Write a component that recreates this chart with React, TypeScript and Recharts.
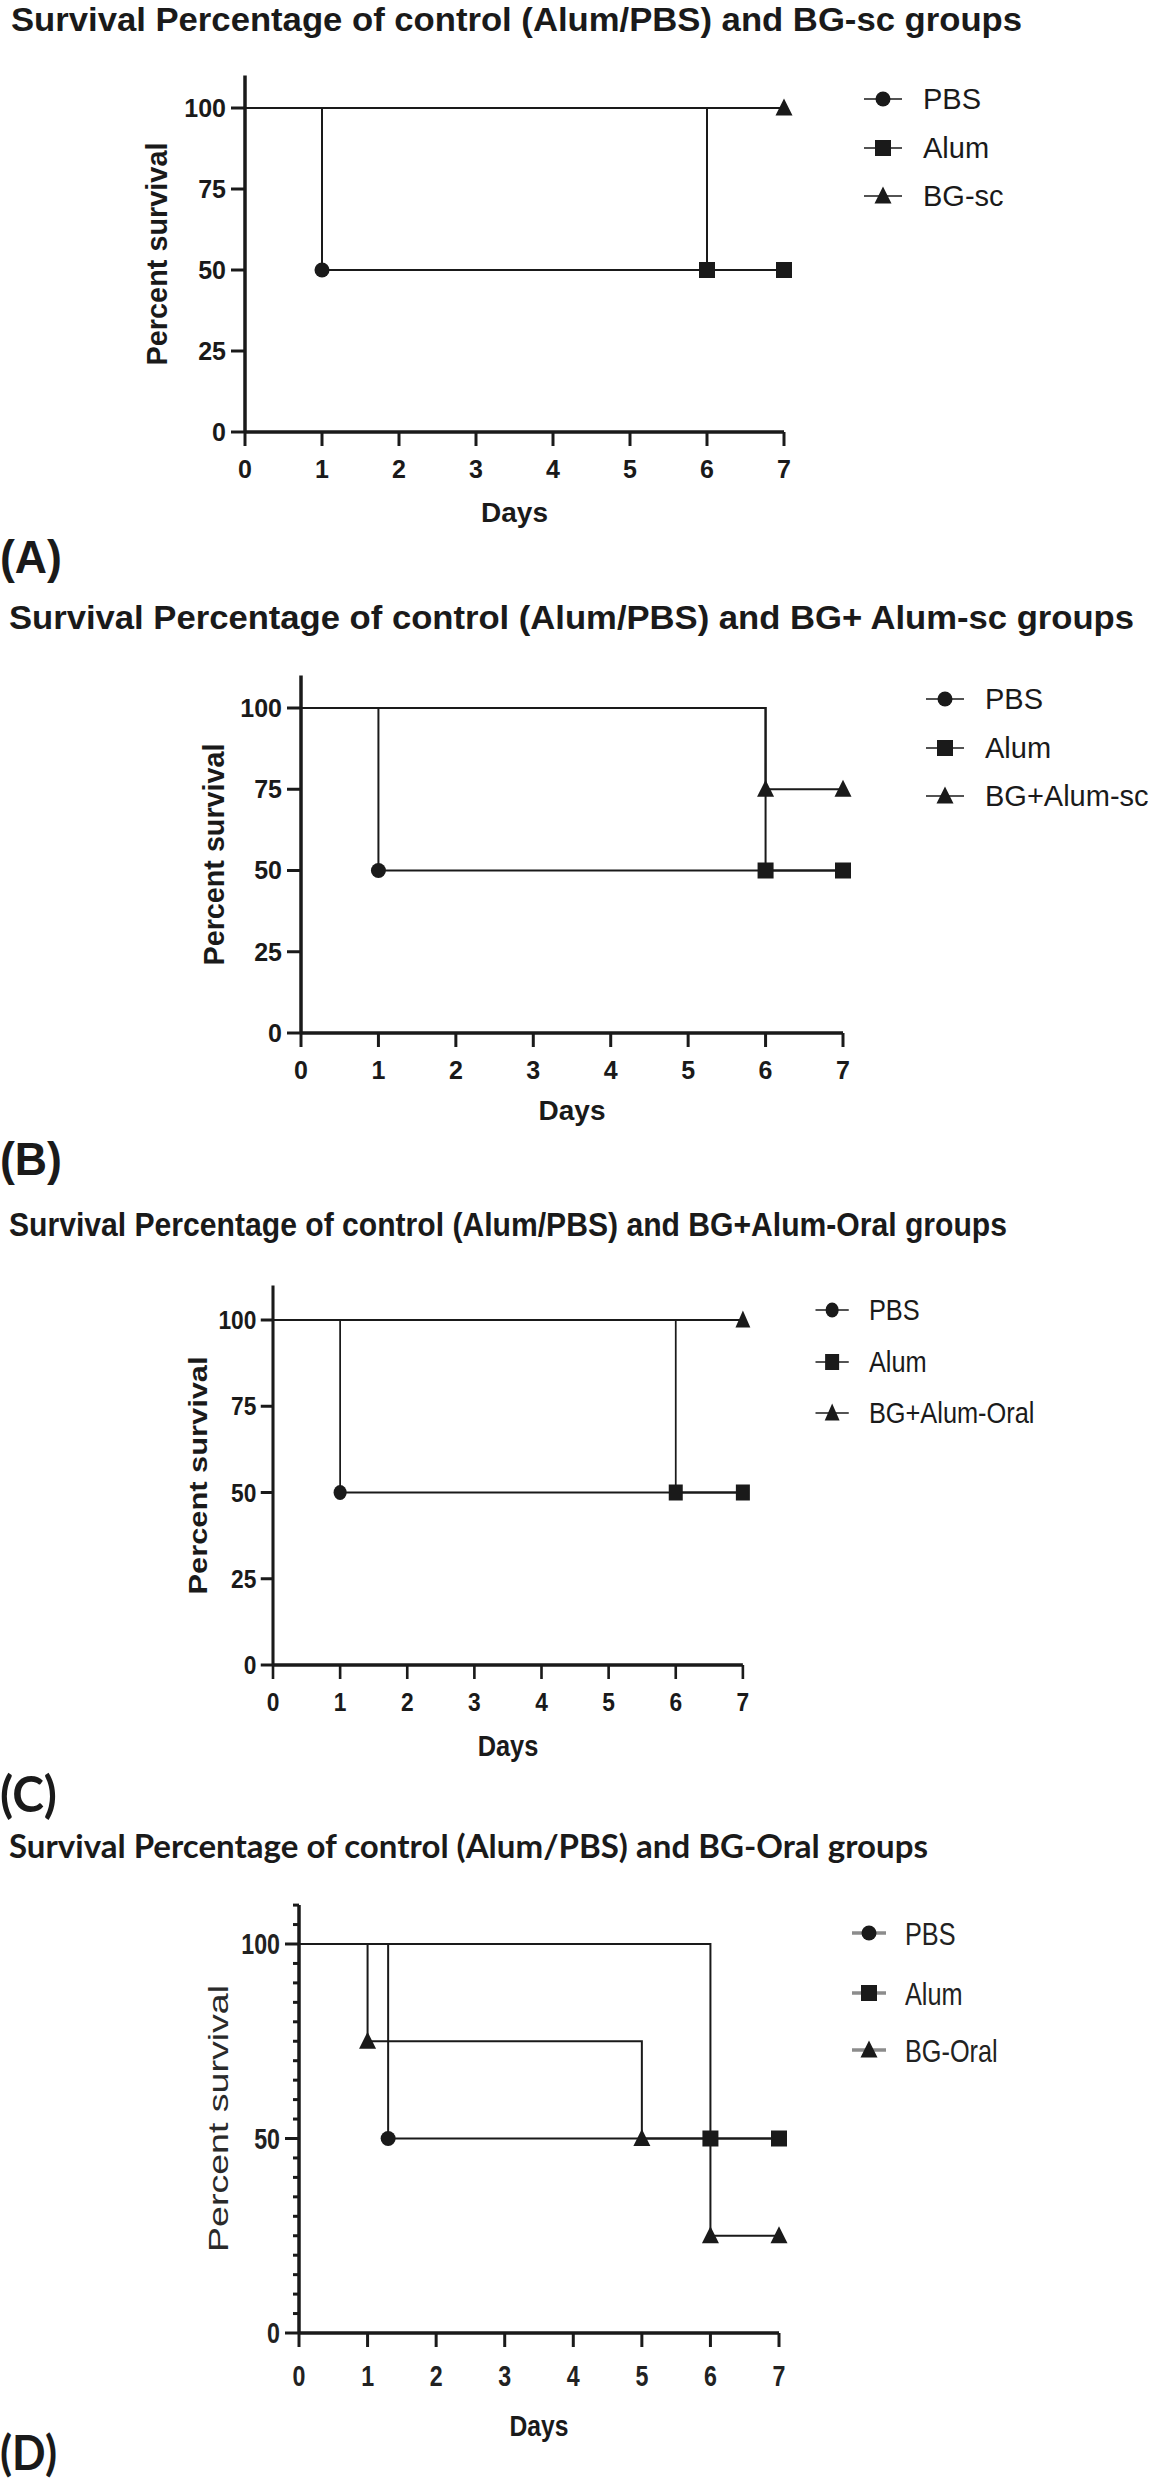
import React from 'react';
import { LineChart, Line, XAxis, YAxis, Legend } from 'recharts';

const FONT = '"Liberation Sans", Arial, Helvetica, sans-serif';
const FONT_CAL = 'Lato, "Open Sans", sans-serif';
const INK = '#1a1a1a';

// axis ticks
const DAY_TICKS = [0, 1, 2, 3, 4, 5, 6, 7];
const PCT_TICKS = [0, 25, 50, 75, 100];
const PCT_TICKS_D = [0, 5, 10, 15, 20, 25, 30, 35, 40, 45, 50, 55, 60, 65, 70, 75, 80, 85, 90, 95, 100, 105, 110];
const PCT_LABELS_D = [0, 50, 100];

type Pt = { day: number; pct: number; mark?: boolean };

// (A) control vs BG-sc
const A_PBS: Pt[] = [{ day: 0, pct: 100 }, { day: 1, pct: 50, mark: true }, { day: 7, pct: 50 }];
const A_ALUM: Pt[] = [{ day: 0, pct: 100 }, { day: 6, pct: 50, mark: true }, { day: 7, pct: 50, mark: true }];
const A_BG: Pt[] = [{ day: 0, pct: 100 }, { day: 7, pct: 100, mark: true }];

// (B) control vs BG+Alum-sc
const B_PBS: Pt[] = [{ day: 0, pct: 100 }, { day: 1, pct: 50, mark: true }, { day: 7, pct: 50 }];
const B_ALUM: Pt[] = [{ day: 0, pct: 100 }, { day: 6, pct: 50, mark: true }, { day: 7, pct: 50, mark: true }];
const B_BG: Pt[] = [{ day: 0, pct: 100 }, { day: 6, pct: 75, mark: true }, { day: 7, pct: 75, mark: true }];

// (C) control vs BG+Alum-Oral
const C_PBS: Pt[] = [{ day: 0, pct: 100 }, { day: 1, pct: 50, mark: true }, { day: 7, pct: 50 }];
const C_ALUM: Pt[] = [{ day: 0, pct: 100 }, { day: 6, pct: 50, mark: true }, { day: 7, pct: 50, mark: true }];
const C_BG: Pt[] = [{ day: 0, pct: 100 }, { day: 7, pct: 100, mark: true }];

// (D) control vs BG-Oral
const D_PBS: Pt[] = [{ day: 0, pct: 100 }, { day: 1.3, pct: 50, mark: true }, { day: 7, pct: 50 }];
const D_ALUM: Pt[] = [{ day: 0, pct: 100 }, { day: 6, pct: 50, mark: true }, { day: 7, pct: 50, mark: true }];
const D_BG: Pt[] = [
  { day: 0, pct: 100 },
  { day: 1, pct: 75, mark: true },
  { day: 5, pct: 50, mark: true },
  { day: 6, pct: 25, mark: true },
  { day: 7, pct: 25, mark: true },
];

const A_NAMES = ['PBS', 'Alum', 'BG-sc'];
const B_NAMES = ['PBS', 'Alum', 'BG+Alum-sc'];
const C_NAMES = ['PBS', 'Alum', 'BG+Alum-Oral'];
const D_NAMES = ['PBS', 'Alum', 'BG-Oral'];

const TITLES = [
  'Survival Percentage of control (Alum/PBS) and BG-sc groups',
  'Survival Percentage of control (Alum/PBS) and BG+ Alum-sc groups',
  'Survival Percentage of control (Alum/PBS) and BG+Alum-Oral groups',
  'Survival Percentage of control (Alum/PBS) and BG-Oral groups',
];
const LETTERS = ['(A)', '(B)', '(C)', '(D)'];

type Shape = 'circle' | 'square' | 'triangle';
const SHAPES: Shape[] = ['circle', 'square', 'triangle'];

const XAXIS_H = 70;
const YAXIS_W = 110;

const Marker = ({ shape, cx, cy }: { shape: Shape; cx: number; cy: number }) => {
  if (shape === 'circle') return <circle cx={cx} cy={cy} r={7.5} fill={INK} />;
  if (shape === 'square') return <rect x={cx - 8} y={cy - 8} width={16} height={16} fill={INK} />;
  return <path d={`M${cx},${cy - 9.5} L${cx + 8.5},${cy + 7.5} L${cx - 8.5},${cy + 7.5} Z`} fill={INK} />;
};

const makeDot = (shape: Shape) => (props: any) => {
  const { cx, cy, payload, index } = props;
  if (!payload || !payload.mark || cx == null || cy == null) return <g key={`n-${index}`} />;
  return (
    <g key={`m-${index}`}>
      <Marker shape={shape} cx={cx} cy={cy} />
    </g>
  );
};

// fixed-position axis title; ignores the viewBox recharts injects
const AxisTitle = (p: any) => {
  const { px, py, text, fs, weight, rotate, len, sx, color } = p;
  const tr = rotate ? `translate(${px},${py}) rotate(-90)` : `translate(${px},${py}) scale(${sx || 1},1)`;
  return (
    <text
      transform={tr}
      textAnchor="middle"
      fontFamily={FONT}
      fontSize={fs}
      fontWeight={weight}
      fill={color || INK}
      textLength={len}
      lengthAdjust={len ? 'spacingAndGlyphs' : undefined}
    >
      {text}
    </text>
  );
};

interface PanelCfg {
  top: number;
  width: number;
  scaleX: number;
  x0: number;
  x7: number;
  y0: number;
  y100: number;
  series: Pt[][];
  names: string[];
  tickFs: number;
  tickSx: number;
  tickColor: string;
  xTickMargin: number;
  yTicks: number[];
  yLabels: number[];
  minor: boolean;
  yTitle: { dx: number; dy: number; fs: number; weight: number; len: number; color: string };
  days: { dy: number; fs: number; sx: number };
  legend: {
    cx: number;
    half: number;
    textX: number;
    rows: number[];
    fs: number;
    sx: number;
    lineColor: string;
    lineW: number;
    color: string;
  };
}

const Panel = ({ cfg }: { cfg: PanelCfg }) => {
  const k = (cfg.y0 - cfg.y100) / 100;
  const yTop = cfg.y0 - 110 * k;
  const bottom = cfg.y0 + 118;
  const height = bottom - cfg.top;
  const margin = {
    top: yTop - cfg.top,
    left: cfg.x0 - YAXIS_W,
    right: cfg.width - cfg.x7,
    bottom: bottom - cfg.y0 - XAXIS_H,
  };
  const lg = cfg.legend;
  const lgLeft = lg.cx - 40;
  const lgTop = lg.rows[0] - 30;

  const XTick = (p: any) => (
    <text
      transform={`translate(${p.x},${p.y}) scale(${cfg.tickSx},1)`}
      textAnchor="middle"
      dy="0.71em"
      fontFamily={FONT}
      fontSize={cfg.tickFs}
      fontWeight="bold"
      fill={cfg.tickColor}
    >
      {p.payload.value}
    </text>
  );

  const YTick = (p: any) => {
    const v = p.payload.value;
    const major = cfg.yLabels.includes(v);
    return (
      <g>
        {cfg.minor && (
          <line x1={cfg.x0 - (major ? 14 : 6)} x2={cfg.x0} y1={p.y} y2={p.y} stroke={INK} strokeWidth={3} />
        )}
        {major && (
          <text
            transform={`translate(${p.x},${p.y}) scale(${cfg.tickSx},1)`}
            textAnchor="end"
            dy="0.355em"
            fontFamily={FONT}
            fontSize={cfg.tickFs}
            fontWeight="bold"
            fill={cfg.tickColor}
          >
            {v}
          </text>
        )}
      </g>
    );
  };

  const renderLegend = () => (
    <svg width={360} height={200} style={{ overflow: 'visible', display: 'block' }}>
      {cfg.names.map((name, i) => {
        const cy = lg.rows[i] - lgTop;
        const cx = lg.cx - lgLeft;
        return (
          <g key={name}>
            <line x1={cx - lg.half} x2={cx + lg.half} y1={cy} y2={cy} stroke={lg.lineColor} strokeWidth={lg.lineW} />
            <Marker shape={SHAPES[i]} cx={cx} cy={cy} />
            <text
              transform={`translate(${lg.textX - lgLeft},${cy}) scale(${lg.sx},1)`}
              dy="0.36em"
              fontFamily={FONT}
              fontSize={lg.fs}
              fill={lg.color}
            >
              {name}
            </text>
          </g>
        );
      })}
    </svg>
  );

  return (
    <div
      style={{
        position: 'absolute',
        left: 0,
        top: cfg.top,
        width: cfg.width,
        height,
        transform: `scaleX(${cfg.scaleX})`,
        transformOrigin: '0 0',
      }}
    >
      <LineChart width={cfg.width} height={height} margin={margin}>
        <XAxis
          type="number"
          dataKey="day"
          domain={[0, 7]}
          ticks={DAY_TICKS}
          interval={0}
          height={XAXIS_H}
          tickSize={14}
          tickMargin={cfg.xTickMargin}
          axisLine={{ stroke: INK, strokeWidth: 3.5 }}
          tickLine={{ stroke: INK, strokeWidth: 3 }}
          tick={XTick}
          label={
            <AxisTitle
              px={(cfg.x0 + cfg.x7) / 2}
              py={cfg.y0 + cfg.days.dy - cfg.top}
              text="Days"
              fs={cfg.days.fs}
              weight="bold"
              sx={cfg.days.sx}
            />
          }
        />
        <YAxis
          type="number"
          domain={[0, 110]}
          allowDataOverflow
          ticks={cfg.yTicks}
          interval={0}
          width={YAXIS_W}
          tickSize={14}
          tickMargin={5}
          axisLine={{ stroke: INK, strokeWidth: 3.5 }}
          tickLine={cfg.minor ? false : { stroke: INK, strokeWidth: 3 }}
          tick={YTick}
          label={
            <AxisTitle
              px={cfg.x0 - cfg.yTitle.dx}
              py={(cfg.y0 + cfg.y100) / 2 - cfg.yTitle.dy - cfg.top}
              text="Percent survival"
              fs={cfg.yTitle.fs}
              weight={cfg.yTitle.weight}
              rotate
              len={cfg.yTitle.len}
              color={cfg.yTitle.color}
            />
          }
        />
        <Legend
          layout="vertical"
          align="center"
          verticalAlign="middle"
          content={renderLegend}
          wrapperStyle={{ position: 'absolute', left: lgLeft, top: lgTop - cfg.top, width: 360, height: 200 }}
        />
        {cfg.series.map((data, i) => (
          <Line
            key={cfg.names[i]}
            name={cfg.names[i]}
            data={data}
            dataKey="pct"
            type="stepAfter"
            stroke={INK}
            strokeWidth={2}
            dot={makeDot(SHAPES[i])}
            activeDot={false}
            isAnimationActive={false}
          />
        ))}
      </LineChart>
    </div>
  );
};

const baseLegend = { half: 19, fs: 29, sx: 1, lineColor: INK, lineW: 1.6, color: INK };

const PANELS: PanelCfg[] = [
  {
    top: 40, width: 1152, scaleX: 1,
    x0: 245, x7: 784, y0: 432, y100: 108,
    series: [A_PBS, A_ALUM, A_BG], names: A_NAMES,
    tickFs: 25, tickSx: 1, tickColor: INK, xTickMargin: 14,
    yTicks: PCT_TICKS, yLabels: PCT_TICKS, minor: false,
    yTitle: { dx: 78, dy: 16, fs: 29, weight: 700, len: 223, color: INK },
    days: { dy: 90, fs: 28, sx: 1 },
    legend: { ...baseLegend, cx: 883, textX: 923, rows: [99, 148, 196] },
  },
  {
    top: 640, width: 1152, scaleX: 1,
    x0: 301, x7: 843, y0: 1033, y100: 708,
    series: [B_PBS, B_ALUM, B_BG], names: B_NAMES,
    tickFs: 25, tickSx: 1, tickColor: INK, xTickMargin: 14,
    yTicks: PCT_TICKS, yLabels: PCT_TICKS, minor: false,
    yTitle: { dx: 77, dy: 16, fs: 29, weight: 700, len: 222, color: INK },
    days: { dy: 87, fs: 28, sx: 1 },
    legend: { ...baseLegend, cx: 945, textX: 985, rows: [699, 748, 796] },
  },
  {
    top: 1245, width: 1317, scaleX: 0.875,
    x0: 312, x7: 849, y0: 1665, y100: 1320,
    series: [C_PBS, C_ALUM, C_BG], names: C_NAMES,
    tickFs: 26, tickSx: 1, tickColor: INK, xTickMargin: 14,
    yTicks: PCT_TICKS, yLabels: PCT_TICKS, minor: false,
    yTitle: { dx: 76, dy: 17, fs: 30, weight: 700, len: 238, color: INK },
    days: { dy: 91, fs: 29, sx: 1 },
    legend: { ...baseLegend, cx: 951, textX: 993, rows: [1310, 1362, 1413] },
  },
  {
    top: 1870, width: 1152, scaleX: 1,
    x0: 299, x7: 779, y0: 2333, y100: 1944,
    series: [D_PBS, D_ALUM, D_BG], names: D_NAMES,
    tickFs: 29, tickSx: 0.8, tickColor: '#222', xTickMargin: 18,
    yTicks: PCT_TICKS_D, yLabels: PCT_LABELS_D, minor: true,
    yTitle: { dx: 71, dy: 20, fs: 28, weight: 400, len: 267, color: '#2a2a2a' },
    days: { dy: 103, fs: 29, sx: 0.85 },
    legend: {
      cx: 869, half: 17, textX: 905, rows: [1933, 1993, 2050],
      fs: 32, sx: 0.79, lineColor: '#8c8c8c', lineW: 3.5, color: '#222',
    },
  },
];

const TITLE_POS = [
  { x: 11, y: 31, len: 1011, fs: 34, family: FONT },
  { x: 9, y: 629, len: 1125, fs: 34, family: FONT },
  { x: 9, y: 1236, len: 998, fs: 34, family: FONT },
  { x: 9, y: 1858, len: 919, fs: 32, family: FONT_CAL },
];
const LETTER_POS = [
  { x: 0, y: 573, len: 62, fs: 46, family: FONT },
  { x: 0, y: 1175, len: 62, fs: 46, family: FONT },
  { x: 0, y: 1812, len: 57, fs: 50, family: FONT_CAL },
  { x: 0, y: 2470, len: 57, fs: 48, family: FONT_CAL },
];

export default function App() {
  return (
    <div
      style={{
        position: 'absolute',
        left: 0,
        top: 0,
        width: 1152,
        height: 2484,
        background: '#fff',
        overflow: 'hidden',
        fontFamily: FONT,
      }}
    >
      {PANELS.map((cfg, i) => (
        <Panel key={i} cfg={cfg} />
      ))}
      <svg
        width={1152}
        height={2484}
        style={{ position: 'absolute', left: 0, top: 0, pointerEvents: 'none' }}
      >
        {TITLES.map((t, i) => (
          <text
            key={t}
            x={TITLE_POS[i].x}
            y={TITLE_POS[i].y}
            fontFamily={TITLE_POS[i].family}
            fontSize={TITLE_POS[i].fs}
            fontWeight="bold"
            fill={INK}
            textLength={TITLE_POS[i].len}
            lengthAdjust="spacingAndGlyphs"
          >
            {t}
          </text>
        ))}
        {LETTERS.map((t, i) => (
          <text
            key={t}
            x={LETTER_POS[i].x}
            y={LETTER_POS[i].y}
            fontFamily={LETTER_POS[i].family}
            fontSize={LETTER_POS[i].fs}
            fontWeight="bold"
            fill={INK}
            textLength={LETTER_POS[i].len}
            lengthAdjust="spacingAndGlyphs"
          >
            {t}
          </text>
        ))}
      </svg>
    </div>
  );
}
